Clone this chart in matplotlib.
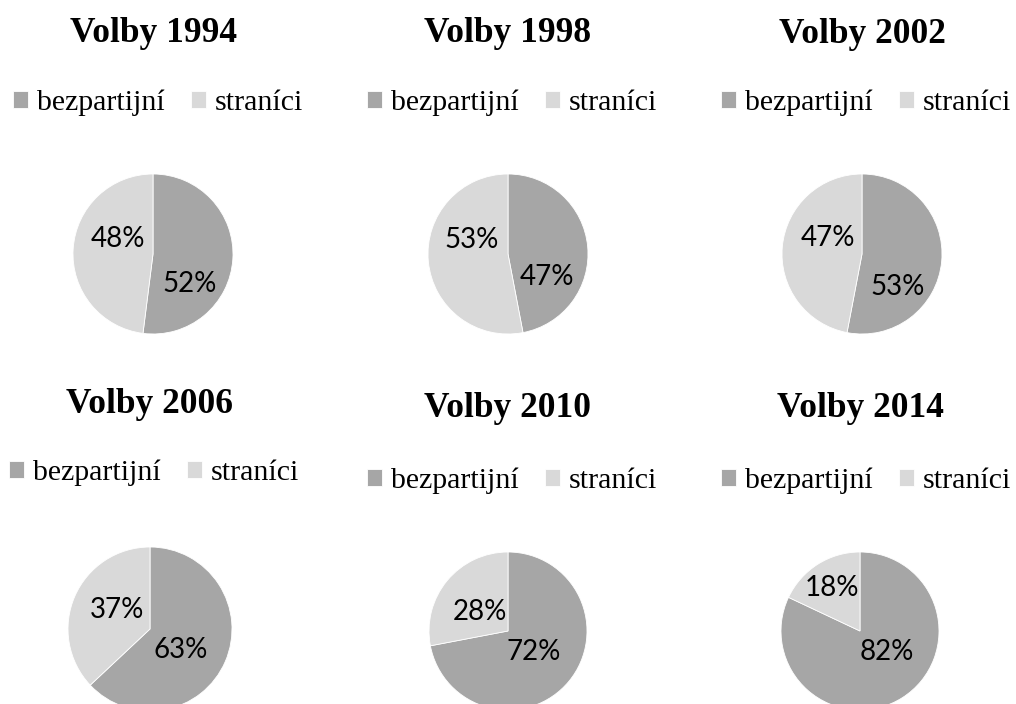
import matplotlib
matplotlib.use("Agg")
import matplotlib.pyplot as plt

years = ["1994", "1998", "2002", "2006", "2010", "2014"]
bezpartijni = [52, 47, 53, 63, 72, 82]
stranici = [48, 53, 47, 37, 28, 18]
labels = ["bezpartijní", "straníci"]
colors = ["#a6a6a6", "#d9d9d9"]

W, H = 1016, 704
# layout in pixels: pie centre, radius, title baseline, legend centre
pie_cx = [153, 508, 862, 150, 508, 860]
pie_cy = [254, 254, 254, 629, 631, 631]
pie_r = [80, 80, 80, 82, 79, 79]
title_y = [42, 42, 43, 413, 417, 417]
leg_x = [158, 512, 866, 154, 512, 866]
leg_y = [103, 103, 103, 473, 481, 481]
# percentage label positions in pie-radius units (dark, light)
lab_pos = [[(0.46, -0.37), (-0.44, 0.19)],
           [(0.49, -0.29), (-0.46, 0.18)],
           [(0.45, -0.41), (-0.43, 0.20)],
           [(0.37, -0.26), (-0.40, 0.23)],
           [(0.33, -0.27), (-0.36, 0.24)],
           [(0.34, -0.27), (-0.35, 0.54)]]

fig = plt.figure(figsize=(W / 100, H / 100), dpi=100)
fig.patch.set_facecolor("white")

for i in range(6):
    cx, cy, r = pie_cx[i], pie_cy[i], pie_r[i]
    ax = fig.add_axes([(cx - r) / W, 1 - (cy + r) / H, 2 * r / W, 2 * r / H])
    wedges, texts, autotexts = ax.pie(
        [bezpartijni[i], stranici[i]], colors=colors, startangle=90,
        counterclock=False, radius=1, autopct="%.0f%%",
        wedgeprops=dict(edgecolor="white", linewidth=0.6),
        textprops=dict(family="Lato", fontsize=20, color="black"))
    for t, p in zip(autotexts, lab_pos[i]):
        t.set_position(p)
        t.set_ha("center")
        t.set_va("center")
    ax.set_xlim(-1, 1)
    ax.set_ylim(-1, 1)
    ax.axis("off")

    fig.text(pie_cx[i] / W, 1 - title_y[i] / H, "Volby " + years[i],
             ha="center", va="baseline", family="Liberation Serif",
             fontweight="bold", fontsize=25.5)
    fig.legend(wedges, labels, loc="center",
               bbox_to_anchor=(leg_x[i] / W, 1 - leg_y[i] / H),
               bbox_transform=fig.transFigure, ncol=2, frameon=False,
               prop=dict(family="Liberation Serif", size=21.5),
               handlelength=0.5, handleheight=0.5, handletextpad=0.28,
               columnspacing=0.9, borderpad=0, borderaxespad=0)

fig.savefig("out.png", dpi=100)
